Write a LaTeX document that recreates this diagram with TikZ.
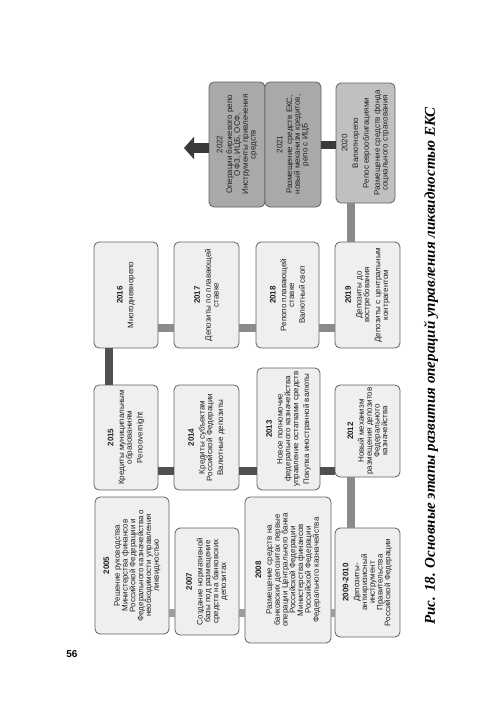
\documentclass[tikz,border=0pt]{standalone}
\usepackage{fontspec}
\setmainfont{Liberation Serif}
\setsansfont{Liberation Sans}
\usetikzlibrary{arrows.meta}
\definecolor{boxfill}{HTML}{EFEFEF}
\definecolor{boxline}{HTML}{606060}
\definecolor{midfill}{HTML}{C0C0C0}
\definecolor{darkfill}{HTML}{A9A9A9}
\definecolor{textcol}{HTML}{222222}
\definecolor{lightbar}{HTML}{9C9C9C}
\definecolor{midbar}{HTML}{8A8A8A}
\definecolor{darkbar}{HTML}{505050}
\definecolor{blackbar}{HTML}{3A3A3A}
\begin{document}
\begin{tikzpicture}[x=1pt,y=-1pt,
  stage/.style={draw=boxline, fill=boxfill, line width=0.8pt, rounded corners=5pt,
    rotate=90, align=center, inner sep=1pt, text=textcol,
    font=\sffamily\fontsize{8}{7.8}\selectfont},
  bar/.style={line width=8pt}]
\useasboundingbox (0,0) rectangle (500,715);
% first row
\node[stage, minimum width=137pt, minimum height=74pt] (2005) at (132,565.5) {\textbf{2005}\\[3pt]
  Решение руководства\\ Министерства финансов\\ Российской Федерации и\\
  Федерального казначейства о\\ необходимости управления\\ ликвидностью};
\node[stage, minimum width=105pt, minimum height=64pt] (2015) at (126,437.5) {\textbf{2015}\\[3pt]
  Кредиты муниципальным\\ образованиям\\[3pt] Репоovernight};
\node[stage, minimum width=106pt, minimum height=64pt] (2016) at (126,295) {\textbf{2016}\\[3pt]
  Многодневнорепо};
% second row
\node[stage, minimum width=107pt, minimum height=64pt] (2007) at (207,581.5) {\textbf{2007}\\[3pt]
  Создание нормативной\\ базы под размещение\\ средств на банковских\\ депозитах};
\node[stage, minimum width=105pt, minimum height=65pt] (2014) at (206.5,437.5) {\textbf{2014}\\[3pt]
  Кредиты субъектам\\ Российской Федерации\\[3pt] Валютные депозиты};
\node[stage, minimum width=106pt, minimum height=65pt] (2017) at (206.5,295) {\textbf{2017}\\[3pt]
  Депозиты по плавающей\\ ставке};
% third row
\node[stage, minimum width=146pt, minimum height=86pt] (2008) at (288,570) {\textbf{2008}\\[3pt]
  Размещение средств на\\ банковских депозитах первые\\ операции Центрального банка\\
  Российской Федерации\\ Министерства финансов\\ Российской Федерации\\
  Федерального казначейства};
\node[stage, minimum width=122pt, minimum height=63pt] (2013) at (288.5,429) {\textbf{2013}\\[3pt]
  Новое полномочие\\ федерального казначейства\\ управление остатками средств\\[3pt]
  Покупка иностранной валюты};
\node[stage, minimum width=106pt, minimum height=63pt] (2018) at (287.5,295) {\textbf{2018}\\[3pt]
  Репопо плавающей\\ ставке\\[3pt] Валютный своп};
% fourth row
\node[stage, minimum width=109pt, minimum height=65pt] (2009) at (367.5,582.5) {\textbf{2009-2010}\\[3pt]
  Депозиты-\\ антикризисный\\ инструмент\\ Правительства\\ Российской Федерации};
\node[stage, minimum width=92pt, minimum height=65pt] (2012) at (367.5,431) {\textbf{2012}\\[3pt]
  Новый механизм\\ размещения депозитов\\ Федерального\\ казначейства};
\node[stage, minimum width=106pt, minimum height=65pt] (2019) at (367.5,295) {\textbf{2019}\\[3pt]
  Депозиты до\\ востребования\\[3pt] Депозиты с центральным\\ контрагентом};
\node[stage, fill=midfill, minimum width=120pt, minimum height=59pt] (2020) at (365.5,143) {2020\\[3pt]
  Валютнорепо\\[3pt] Репос еврооблигациями\\[3pt] Размещение средств фонда\\ социального страхования};
% top boxes
\node[stage, fill=darkfill, minimum width=125pt, minimum height=56pt] (2022) at (237,144.5) {2022\\[2pt]
  Операции биржевого репо\\ ОФЗ, ИЦБ, ОСФ,\\ Инструменты привлечения\\ средств};
\node[stage, fill=darkfill, minimum width=125pt, minimum height=56pt] (2021) at (293,144.5) {2021\\[2pt]
  Размещение средств ЕКС,\\ новый механизм кредитов,\\ репо с ИЦБ};
% connectors
\coordinate (low) at (0,612.5);
\coordinate (mid) at (0,471);
\coordinate (up) at (0,327.5);
\coordinate (top) at (0,144.5);
\coordinate (left) at (109,0);
\coordinate (right) at (351,0);
\coordinate (tip) at (184,148);
\path[draw,bar,lightbar] (2005.south |- low) -- (2007.north |- low);
\path[draw,bar,lightbar] (2007.south |- low) -- (2008.north |- low);
\path[draw,bar,lightbar] (2008.south |- low) -- (2009.north |- low);
\path[draw,bar,midbar] (2009.east -| right) -- (2012.west -| right);
\path[draw,bar,darkbar] (2012.north |- mid) -- (2013.south |- mid);
\path[draw,bar,darkbar] (2013.north |- mid) -- (2014.south |- mid);
\path[draw,bar,darkbar] (2014.north |- mid) -- (2015.south |- mid);
\path[draw,bar,darkbar] (2015.east -| left) -- (2016.west -| left);
\path[draw,bar,midbar] (2016.south |- up) -- (2017.north |- up);
\path[draw,bar,midbar] (2017.south |- up) -- (2018.north |- up);
\path[draw,bar,midbar] (2018.south |- up) -- (2019.north |- up);
\path[draw,bar,midbar] (2019.east -| right) -- (2020.west -| right);
\path[draw,bar,blackbar] (2020.north |- top) -- (2021.south |- top);
\path[draw,line width=10pt,blackbar,-{Triangle[length=10pt,width=22pt]}] (2022.north |- tip) -- (tip);
% caption and page number
\node[rotate=90, font=\fontsize{15}{15}\bfseries\itshape\selectfont] (caption) at (431,366)
  {Рис. 18. Основные этапы развития операций управления ликвидностью ЕКС};
\node[font=\sffamily\bfseries\fontsize{10}{10}\selectfont] (page) at (72,654) {56};
\end{tikzpicture}
\end{document}
